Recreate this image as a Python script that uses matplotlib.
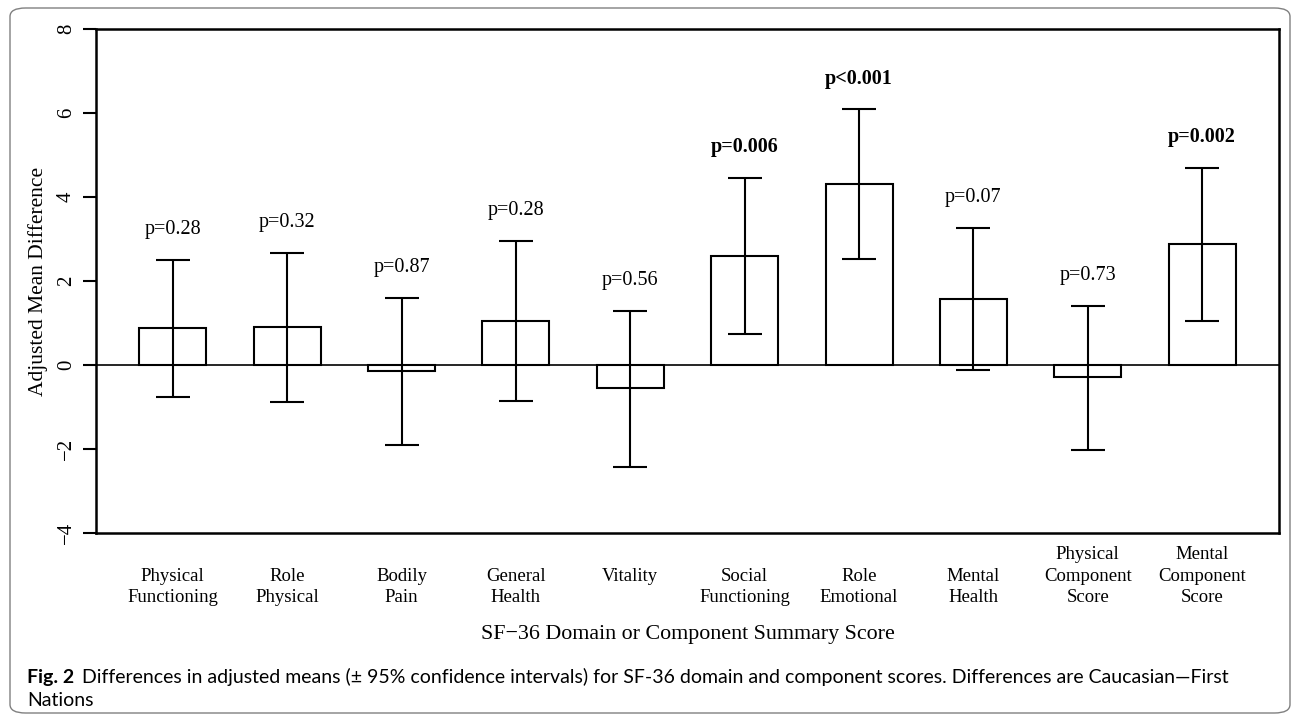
import numpy as np
import matplotlib.pyplot as plt
from matplotlib.patches import FancyBboxPatch

# SF-36 domains, differences Caucasian - First Nations
domains = ["Physical\nFunctioning", "Role\nPhysical", "Bodily\nPain", "General\nHealth",
           "Vitality\n ", "Social\nFunctioning", "Role\nEmotional", "Mental\nHealth",
           "Physical\nComponent\nScore", "Mental\nComponent\nScore"]
means = [0.88, 0.90, -0.14, 1.05, -0.55, 2.59, 4.31, 1.57, -0.29, 2.88]
upper = [2.51, 2.67, 1.60, 2.95, 1.29, 4.46, 6.09, 3.27, 1.41, 4.70]
lower = [-0.75, -0.87, -1.90, -0.85, -2.42, 0.73, 2.52, -0.13, -2.03, 1.05]
pvals = ["p=0.28", "p=0.32", "p=0.87", "p=0.28", "p=0.56", "p=0.006", "p<0.001",
         "p=0.07", "p=0.73", "p=0.002"]
signif = [False, False, False, False, False, True, True, False, False, True]

serif = "Liberation Serif"

fig = plt.figure(figsize=(12.93, 7.15), dpi=100)
ax = fig.add_axes([0.0742, 0.2545, 0.9150, 0.7049])

x = np.arange(1, len(means) + 1)
m = np.array(means)
up = np.array(upper)
lo = np.array(lower)

ax.bar(x, m, width=0.585, fill=False, edgecolor="black", linewidth=1.5, zorder=2)
ax.errorbar(x, m, yerr=[m - lo, up - m], fmt="none", ecolor="black",
            elinewidth=1.5, capsize=12, capthick=1.5, zorder=3)
ax.axhline(0, color="black", lw=1.2, zorder=1)

for xi, yi, lab, b in zip(x, up, pvals, signif):
    ax.text(xi, yi + 0.72, lab, ha="center", va="center", fontsize=14.5,
            family=serif, fontweight="bold" if b else "normal")

ax.set_xlim(0.328, 10.672)
ax.set_ylim(-4, 8)
ax.set_yticks([-4, -2, 0, 2, 4, 6, 8])
ax.tick_params(axis="y", length=9.5, width=1.5, pad=5, labelsize=15)
for t in ax.get_yticklabels():
    t.set_rotation(90)
    t.set_va("center")
    t.set_family(serif)

ax.set_xticks(x)
ax.set_xticklabels(domains, va="bottom", fontsize=13.5, family=serif, linespacing=1.33)
ax.tick_params(axis="x", length=0, pad=52.5)

for s in ax.spines.values():
    s.set_linewidth(1.8)

ax.set_ylabel("Adjusted Mean Difference", fontsize=15.5, family=serif, labelpad=6)
fig.text(0.5317, 1 - 635 / 715, "SF\u221236 Domain or Component Summary Score",
         ha="center", va="center", fontsize=15.8, family=serif)

# caption
cap = fig.text(27 / 1293, 1 - 677 / 715, "Fig. 2", ha="left", va="center",
               fontsize=14, family="Lato", fontweight="bold")
ax.annotate("Differences in adjusted means (\u00b1 95% confidence intervals) for SF-36 domain "
            "and component scores. Differences are Caucasian\u2014First",
            xy=(1, 0.5), xycoords=cap, xytext=(6, 0), textcoords="offset points",
            ha="left", va="center", fontsize=14, family="Lato", annotation_clip=False)
fig.text(27 / 1293, 1 - 701 / 715, "Nations", ha="left", va="center",
         fontsize=14, family="Lato")

# rounded frame around the figure
frame = FancyBboxPatch((10 / 1293, 2 / 715), 1280 / 1293, 1 - 10 / 715,
                       boxstyle="round,pad=0,rounding_size=0.012",
                       transform=fig.transFigure, fill=False,
                       edgecolor="#808080", linewidth=1.0)
fig.patches.append(frame)

fig.savefig("out.png", dpi=100)
